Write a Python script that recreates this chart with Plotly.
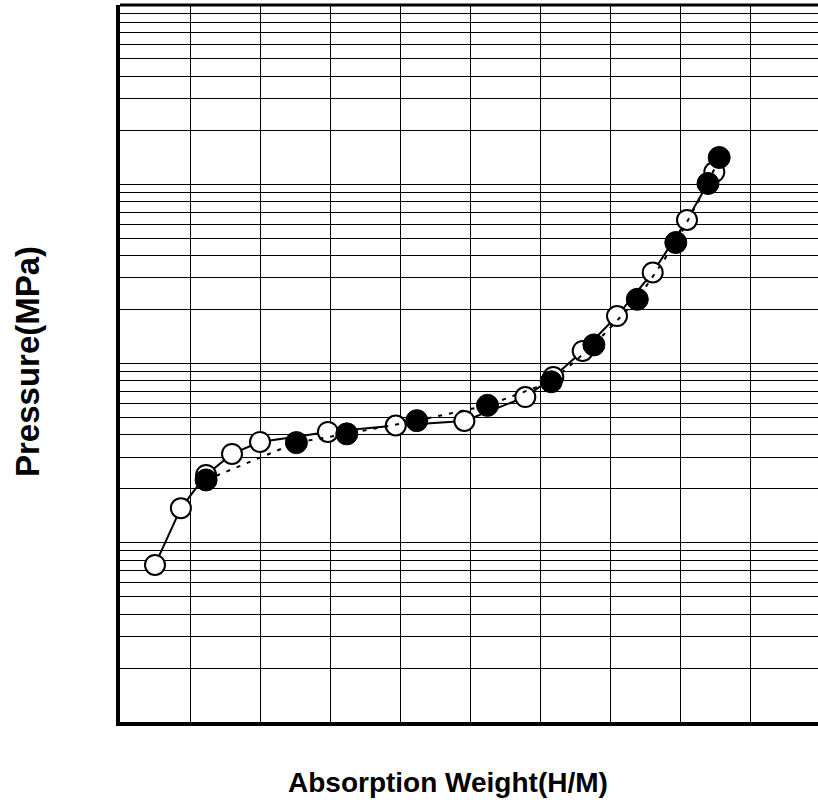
import plotly.graph_objects as go

# Open-circle series (solid line)
open_x = [0.050, 0.087, 0.123, 0.160, 0.200, 0.297, 0.394, 0.492, 0.579, 0.619, 0.661, 0.710, 0.761, 0.810, 0.849]
open_p = [0.0752, 0.156, 0.239, 0.313, 0.365, 0.415, 0.451, 0.478, 0.650, 0.841, 1.175, 1.84, 3.22, 6.32, 11.7]

# Filled-circle series (dashed line)
fill_x = [0.123, 0.252, 0.324, 0.424, 0.525, 0.616, 0.677, 0.739, 0.794, 0.840, 0.856]
fill_p = [0.224, 0.362, 0.405, 0.480, 0.584, 0.791, 1.27, 2.28, 4.73, 10.1, 14.1]

x_title = "Absorption Weight(H/M)"
y_title = "Pressure(MPa)"

fig = go.Figure()
fig.add_trace(go.Scatter(
    x=open_x, y=open_p, mode="lines+markers",
    line=dict(color="black", width=2),
    marker=dict(symbol="circle", size=20, color="white", line=dict(color="black", width=2)),
    showlegend=False))
fig.add_trace(go.Scatter(
    x=fill_x, y=fill_p, mode="lines+markers",
    line=dict(color="black", width=2, dash="4px,7px"),
    marker=dict(symbol="circle", size=22, color="black", line=dict(color="black", width=1)),
    showlegend=False))

W, H = 818, 804
L, B, T = 120, 82, 5
fig.update_layout(
    width=W, height=H,
    margin=dict(l=L, r=0, t=T, b=B),
    plot_bgcolor="white", paper_bgcolor="white",
    font=dict(family="Arial, Liberation Sans, sans-serif", color="black"),
    xaxis=dict(range=[0, 698/700], dtick=0.1, tick0=0, showgrid=True, gridcolor="black", gridwidth=1,
               showticklabels=False, ticks="", zeroline=False,
               showline=True, linecolor="black", linewidth=4),
    yaxis=dict(type="log", range=[-2, 2], dtick="D1", showgrid=True, gridcolor="black", gridwidth=1,
               showticklabels=False, ticks="", zeroline=False,
               showline=True, linecolor="black", linewidth=4),
    shapes=[dict(type="line", xref="paper", yref="paper", x0=0, x1=1, y0=1, y1=1,
                 line=dict(color="black", width=3))],
    annotations=[
        dict(text="<b>" + x_title + "</b>", xref="paper", yref="paper",
             x=(448 - L) / (W - L), y=-(782 - (H - B)) / (H - B - T),
             showarrow=False, font=dict(size=28), xanchor="center", yanchor="middle"),
        dict(text="<b>" + y_title + "</b>", xref="paper", yref="paper",
             x=-(L - 27) / (W - L), y=((H - B) - 361) / (H - B - T),
             showarrow=False, font=dict(size=33), textangle=-90, xanchor="center", yanchor="middle"),
    ],
)
fig.write_html("out.html", config={"displayModeBar": False},
               post_script="document.body.style.margin='0';document.body.style.overflow='hidden';")
